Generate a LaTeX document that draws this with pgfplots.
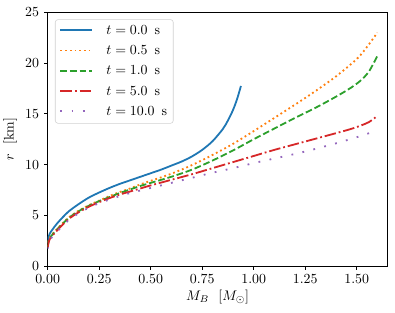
\documentclass[border=0pt]{standalone}
\usepackage{pgfplots}
\pgfplotsset{compat=1.18}
\usetikzlibrary{calc}
\definecolor{c0}{HTML}{1F77B4}
\definecolor{c1}{HTML}{FF7F0E}
\definecolor{c2}{HTML}{2CA02C}
\definecolor{c3}{HTML}{D62728}
\definecolor{c4}{HTML}{9467BD}
\begin{document}
\begin{tikzpicture}
\begin{axis}[
  scale only axis, width=244.8pt, height=182.7pt,
  xmin=0, xmax=1.65, ymin=0, ymax=25,
  xtick={0,0.25,0.5,0.75,1,1.25,1.5},
  ytick={0,5,10,15,20,25},
  xticklabel style={/pgf/number format/.cd, fixed, fixed zerofill, precision=2},
  tick align=outside, xtick pos=bottom, ytick pos=left,
  major tick length=2.6pt,
  every tick/.style={black, line width=0.6pt},
  axis line style={line width=0.6pt},
  xlabel={$M_B\ \ [M_\odot]$},
  ylabel={$r\ \ [\mathrm{km}]$},
  xlabel style={yshift=2pt},
  ylabel style={yshift=-1pt},
  legend style={at={(0,1)}, anchor=north west, xshift=5.3pt, yshift=-5pt,
    draw=black!18, rounded corners=2pt, fill=white, fill opacity=0.8, text opacity=1,
    inner xsep=3pt, inner ysep=2pt,
    nodes={inner sep=1.5pt, text height=7pt, text depth=2.3pt}, row sep=2.3pt,
    /tikz/every odd column/.append style={column sep=8pt}},
  legend cell align=left,
  legend image code/.code={\draw[#1] (0pt,0.5pt) -- (23pt,0.5pt);},
  every axis plot/.append style={line width=1.3pt},
]
\addplot[c0, solid, smooth] coordinates {
(0,2.3) (0.005,2.9) (0.01,3.2) (0.025,3.65) (0.05,4.3) (0.10,5.35) (0.15,6.1) (0.20,6.75)
(0.25,7.25) (0.30,7.7) (0.35,8.1) (0.40,8.45) (0.45,8.8) (0.50,9.15) (0.55,9.5) (0.60,9.9)
(0.65,10.3) (0.70,10.8) (0.75,11.45) (0.80,12.3) (0.85,13.5) (0.875,14.35) (0.90,15.4)
(0.92,16.5) (0.938,17.75)};
\addlegendentry{$t = 0.0$\, s}
\addplot[c1, dash pattern=on 1.3pt off 2.1pt, smooth] coordinates {
(0,1.9) (0.005,2.5) (0.01,2.8) (0.025,3.2) (0.05,3.75) (0.10,4.75) (0.15,5.45) (0.20,6.0)
(0.25,6.45) (0.30,6.9) (0.35,7.3) (0.40,7.65) (0.45,8.05) (0.50,8.4) (0.60,9.1) (0.70,9.95)
(0.80,10.95) (0.90,12.05) (1.00,13.3) (1.10,14.6) (1.20,15.9) (1.30,17.25) (1.40,18.7)
(1.50,20.4) (1.55,21.6) (1.60,23.0)};
\addlegendentry{$t = 0.5$\, s}
\addplot[c2, dash pattern=on 4.8pt off 2.1pt, smooth] coordinates {
(0,1.9) (0.005,2.45) (0.01,2.75) (0.025,3.15) (0.05,3.7) (0.10,4.7) (0.15,5.4) (0.20,5.95)
(0.25,6.4) (0.30,6.8) (0.35,7.2) (0.40,7.55) (0.45,7.9) (0.50,8.2) (0.60,8.8) (0.70,9.5)
(0.80,10.4) (0.90,11.4) (1.00,12.5) (1.10,13.55) (1.20,14.6) (1.30,15.6) (1.40,16.7)
(1.47,17.55) (1.52,18.3) (1.56,19.2) (1.60,20.7)};
\addlegendentry{$t = 1.0$\, s}
\addplot[c3, dash pattern=on 8.3pt off 2.1pt on 1.3pt off 2.1pt, smooth] coordinates {
(0,1.8) (0.005,2.35) (0.01,2.65) (0.025,3.05) (0.05,3.6) (0.10,4.6) (0.15,5.3) (0.20,5.85)
(0.25,6.3) (0.30,6.7) (0.35,7.05) (0.40,7.35) (0.45,7.65) (0.50,7.95) (0.60,8.5) (0.70,9.05)
(0.80,9.65) (0.90,10.25) (1.00,10.85) (1.10,11.45) (1.20,12.0) (1.30,12.55) (1.40,13.1)
(1.47,13.5) (1.52,13.85) (1.56,14.2) (1.60,14.8)};
\addlegendentry{$t = 5.0$\, s}
\addplot[c4, dash pattern=on 1.3pt off 6.8pt, smooth] coordinates {
(0,1.7) (0.005,2.25) (0.01,2.55) (0.025,2.95) (0.05,3.5) (0.10,4.5) (0.15,5.2) (0.20,5.75)
(0.25,6.2) (0.30,6.55) (0.35,6.9) (0.40,7.2) (0.45,7.45) (0.50,7.7) (0.60,8.2) (0.70,8.7)
(0.80,9.2) (0.90,9.65) (1.00,10.15) (1.10,10.6) (1.20,11.05) (1.30,11.55) (1.40,12.1)
(1.50,12.7) (1.59,13.3)};
\addlegendentry{$t = 10.0$\, s}
\end{axis}
\pgfresetboundingbox
\path ($(current axis.south west)+(-34.3pt,-33.1pt)$) rectangle ($(current axis.north east)+(5.3pt,8.9pt)$);
\end{tikzpicture}
\end{document}
